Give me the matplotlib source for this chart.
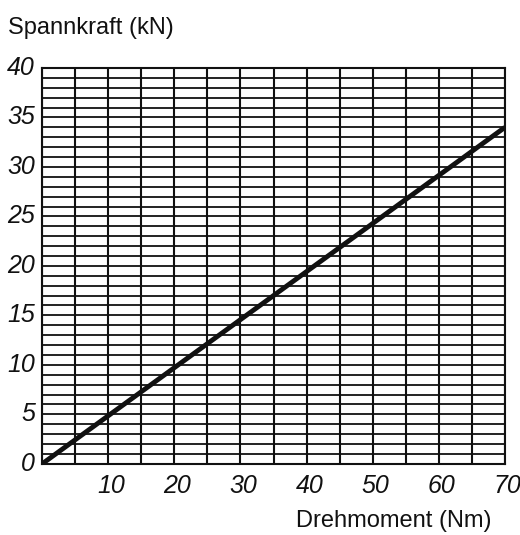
import numpy as np
import matplotlib.pyplot as plt
from matplotlib import font_manager

torque = [0, 70]
force = [0, 34]
x_ticks = [10, 20, 30, 40, 50, 60, 70]
y_ticks = [0, 5, 10, 15, 20, 25, 30, 35, 40]

names = set(f.name for f in font_manager.fontManager.ttflist)
fam = 'Liberation Sans Narrow' if 'Liberation Sans Narrow' in names else 'Liberation Sans'
plt.rcParams['font.family'] = fam

fig = plt.figure(figsize=(5.2, 5.35), dpi=100)
ax = fig.add_axes([0.081, 0.133, 0.890, 0.740])

for xv in np.arange(0, 71, 5):
    ax.axvline(xv, color='#111111', lw=1.5, zorder=1)
for yv in np.arange(0, 41, 1):
    ax.axhline(yv, color='#111111', lw=1.3, zorder=1)

ax.plot(torque, force, color='#111111', lw=3.5, zorder=3, solid_capstyle='butt')

ax.set_xlim(0, 70)
ax.set_ylim(0, 40)
for s in ax.spines.values():
    s.set_linewidth(1.5)
    s.set_color('#111111')
ax.set_xticks([])
ax.set_yticks([])

for xv in x_ticks:
    ax.text(xv + 0.4, -1.0, str(xv), ha='center', va='top', fontsize=18,
            style='italic', color='#111111')
for yv in y_ticks:
    ax.text(-1.1, yv, str(yv), ha='right', va='center', fontsize=18,
            style='italic', color='#111111')

fig.text(8 / 520, 1 - 28 / 535, 'Spannkraft (kN)', ha='left', va='center',
         fontsize=17, color='#111111')
fig.text(492 / 520, 1 - 521 / 535, 'Drehmoment (Nm)', ha='right', va='center',
         fontsize=17, color='#111111')

fig.savefig('out.png', dpi=100)
